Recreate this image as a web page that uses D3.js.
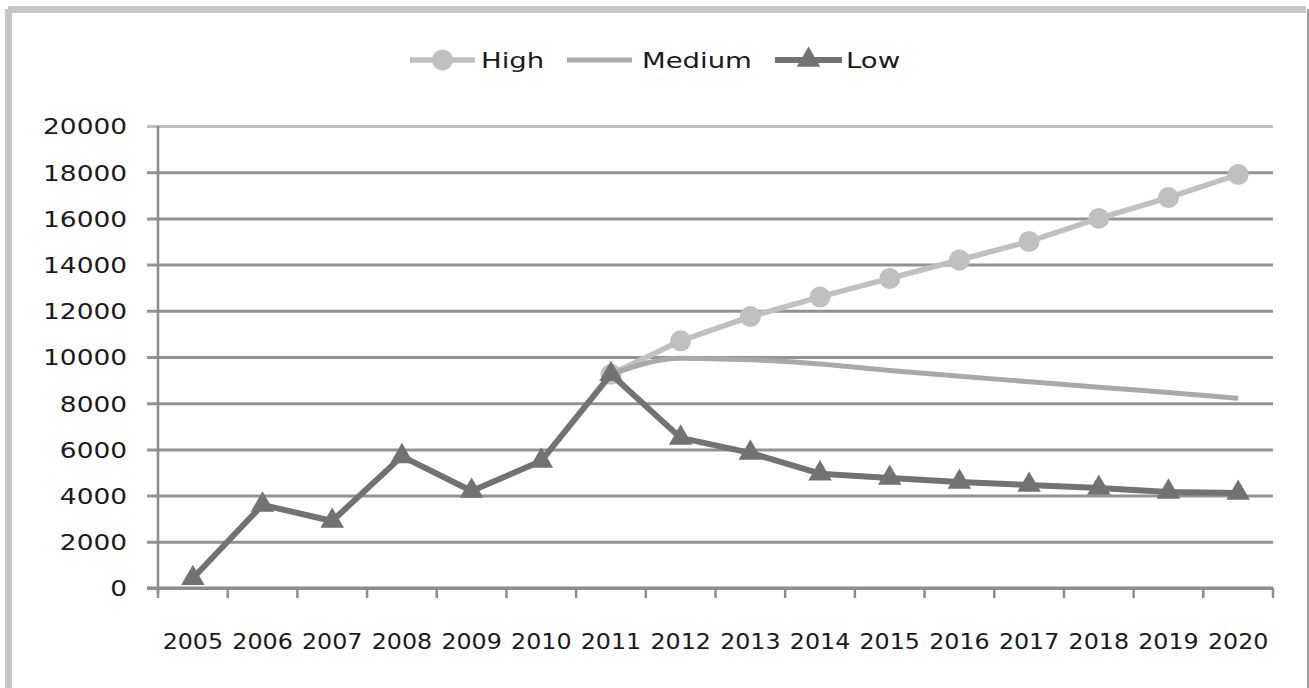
<!DOCTYPE html>
<html>
<head>
<meta charset="utf-8">
<script src="https://cdn.jsdelivr.net/npm/d3@7"></script>
<style>
  html, body { margin: 0; padding: 0; background: #ffffff; }
  svg { display: block; }
  text { font-family: "DejaVu Sans", Verdana, sans-serif; fill: #1a1a1a; }
</style>
</head>
<body>
<svg id="chart" width="1309" height="688"></svg>
<script>
// ---- data ----
const years = ["2005","2006","2007","2008","2009","2010","2011","2012","2013","2014","2015","2016","2017","2018","2019","2020"];
const high   = [null, null, null, null, null, null, 9250, 10700, 11750, 12600, 13400, 14200, 15000, 16000, 16900, 17900];
const medium = [null, null, null, null, null, null, 9250, 9950, 9880, 9700, 9420, 9170, 8930, 8690, 8460, 8210];
const low    = [420, 3600, 2900, 5700, 4200, 5500, 9250, 6500, 5850, 4950, 4760, 4590, 4460, 4330, 4160, 4110];
const yTicks = [0, 2000, 4000, 6000, 8000, 10000, 12000, 14000, 16000, 18000, 20000];
const seriesNames = ["High", "Medium", "Low"];

const svg = d3.select("#chart");
const SXY = 1.2;     // horizontal stretch of y labels
const SXX = 1.08;    // horizontal stretch of x labels
const SXL = 1.25;    // horizontal stretch of legend text
const FS = 22;

// frame
svg.append("rect").attr("x", 8).attr("y", 6).attr("width", 1298).attr("height", 7).attr("fill", "#c6c6c6");
svg.append("rect").attr("x", 5).attr("y", 9).attr("width", 7).attr("height", 679).attr("fill", "#c6c6c6");
svg.append("line").attr("x1", 1308).attr("x2", 1308).attr("y1", 9).attr("y2", 688).attr("stroke", "#7a7a7a").attr("stroke-width", 1.5);

// scales
const x = d3.scaleBand().domain(years).range([158, 1273]).padding(0);
const y = d3.scaleLinear().domain([0, 20000]).range([588, 126]);
const cx = d => x(d) + x.bandwidth() / 2;

// gridlines + y labels via axis
const yAxis = d3.axisLeft(y).tickValues(yTicks).tickSize(-(1273 - 147)).tickPadding(0).tickFormat(d3.format("d"));
const gy = svg.append("g").attr("transform", "translate(147,0)").call(yAxis);
gy.select(".domain").remove();
gy.selectAll(".tick line").attr("stroke", d => d === 20000 ? "#c2c2c2" : "#939393").attr("stroke-width", 3);
gy.selectAll(".tick text")
  .attr("x", -20 / SXY).attr("transform", `scale(${SXY},1)`)
  .attr("font-size", FS).attr("fill", "#1a1a1a").attr("dy", "0.36em");

// y axis line
svg.append("line").attr("x1", 158).attr("x2", 158).attr("y1", 126).attr("y2", 593).attr("stroke", "#8c8c8c").attr("stroke-width", 2.5);

// x axis
const xAxis = d3.axisBottom(x).tickSize(0).tickPadding(0);
const gx = svg.append("g").attr("transform", "translate(0,588)").call(xAxis);
gx.select(".domain").attr("stroke", "#8c8c8c").attr("stroke-width", 3).attr("d", "M147,0H1273");
gx.selectAll(".tick text")
  .attr("y", 53).attr("transform", `scale(${SXX},1)`)
  .attr("font-size", FS).attr("fill", "#1a1a1a").attr("dy", "0.36em");
// boundary ticks
const bounds = years.map(d => x(d)).concat([x.range()[1]]);
svg.append("g").selectAll("line").data(bounds).join("line")
  .attr("x1", d => d).attr("x2", d => d).attr("y1", 588).attr("y2", 598)
  .attr("stroke", "#8c8c8c").attr("stroke-width", 2.5);

// series
const pts = arr => years.map((yr, i) => ({ yr, v: arr[i] })).filter(p => p.v !== null);
const lineGen = d3.line().x(p => cx(p.yr)).y(p => y(p.v));
const smoothGen = d3.line().x(p => cx(p.yr)).y(p => y(p.v)).curve(d3.curveMonotoneX);

// High
svg.append("path").datum(pts(high)).attr("d", lineGen).attr("fill", "none").attr("stroke", "#c0c0c0").attr("stroke-width", 5.5).attr("stroke-linejoin", "round");
svg.append("g").selectAll("circle").data(pts(high)).join("circle")
  .attr("cx", p => cx(p.yr)).attr("cy", p => y(p.v)).attr("r", 10.5).attr("fill", "#c0c0c0");

// Medium
svg.append("path").datum(pts(medium)).attr("d", smoothGen).attr("fill", "none").attr("stroke", "#a9a9a9").attr("stroke-width", 5);

// Low
svg.append("path").datum(pts(low)).attr("d", lineGen).attr("fill", "none").attr("stroke", "#727272").attr("stroke-width", 6).attr("stroke-linejoin", "round");
const tri = d3.symbol().type(d3.symbolTriangle).size(240);
svg.append("g").selectAll("path").data(pts(low)).join("path")
  .attr("d", tri).attr("transform", p => `translate(${cx(p.yr)},${y(p.v)})`).attr("fill", "#727272");

// legend
const lg = svg.append("g");
const legendItems = [
  { name: seriesNames[0], x1: 410, x2: 475, tx: 481, color: "#c0c0c0", marker: "circle", w: 5.5 },
  { name: seriesNames[1], x1: 567, x2: 632, tx: 642, color: "#a9a9a9", marker: null, w: 5 },
  { name: seriesNames[2], x1: 775, x2: 842, tx: 846, color: "#727272", marker: "tri", w: 6 }
];
const ly = 60;
legendItems.forEach(it => {
  lg.append("line").attr("x1", it.x1).attr("x2", it.x2).attr("y1", ly).attr("y2", ly).attr("stroke", it.color).attr("stroke-width", it.w);
  const mx = (it.x1 + it.x2) / 2;
  if (it.marker === "circle") lg.append("circle").attr("cx", mx).attr("cy", ly).attr("r", 10.5).attr("fill", it.color);
  if (it.marker === "tri") lg.append("path").attr("d", tri).attr("transform", `translate(${mx},${ly})`).attr("fill", it.color);
  lg.append("text").attr("x", it.tx / SXL).attr("y", ly).attr("dy", "0.36em")
    .attr("transform", `scale(${SXL},1)`).attr("font-size", FS).text(it.name);
});
</script>
</body>
</html>
